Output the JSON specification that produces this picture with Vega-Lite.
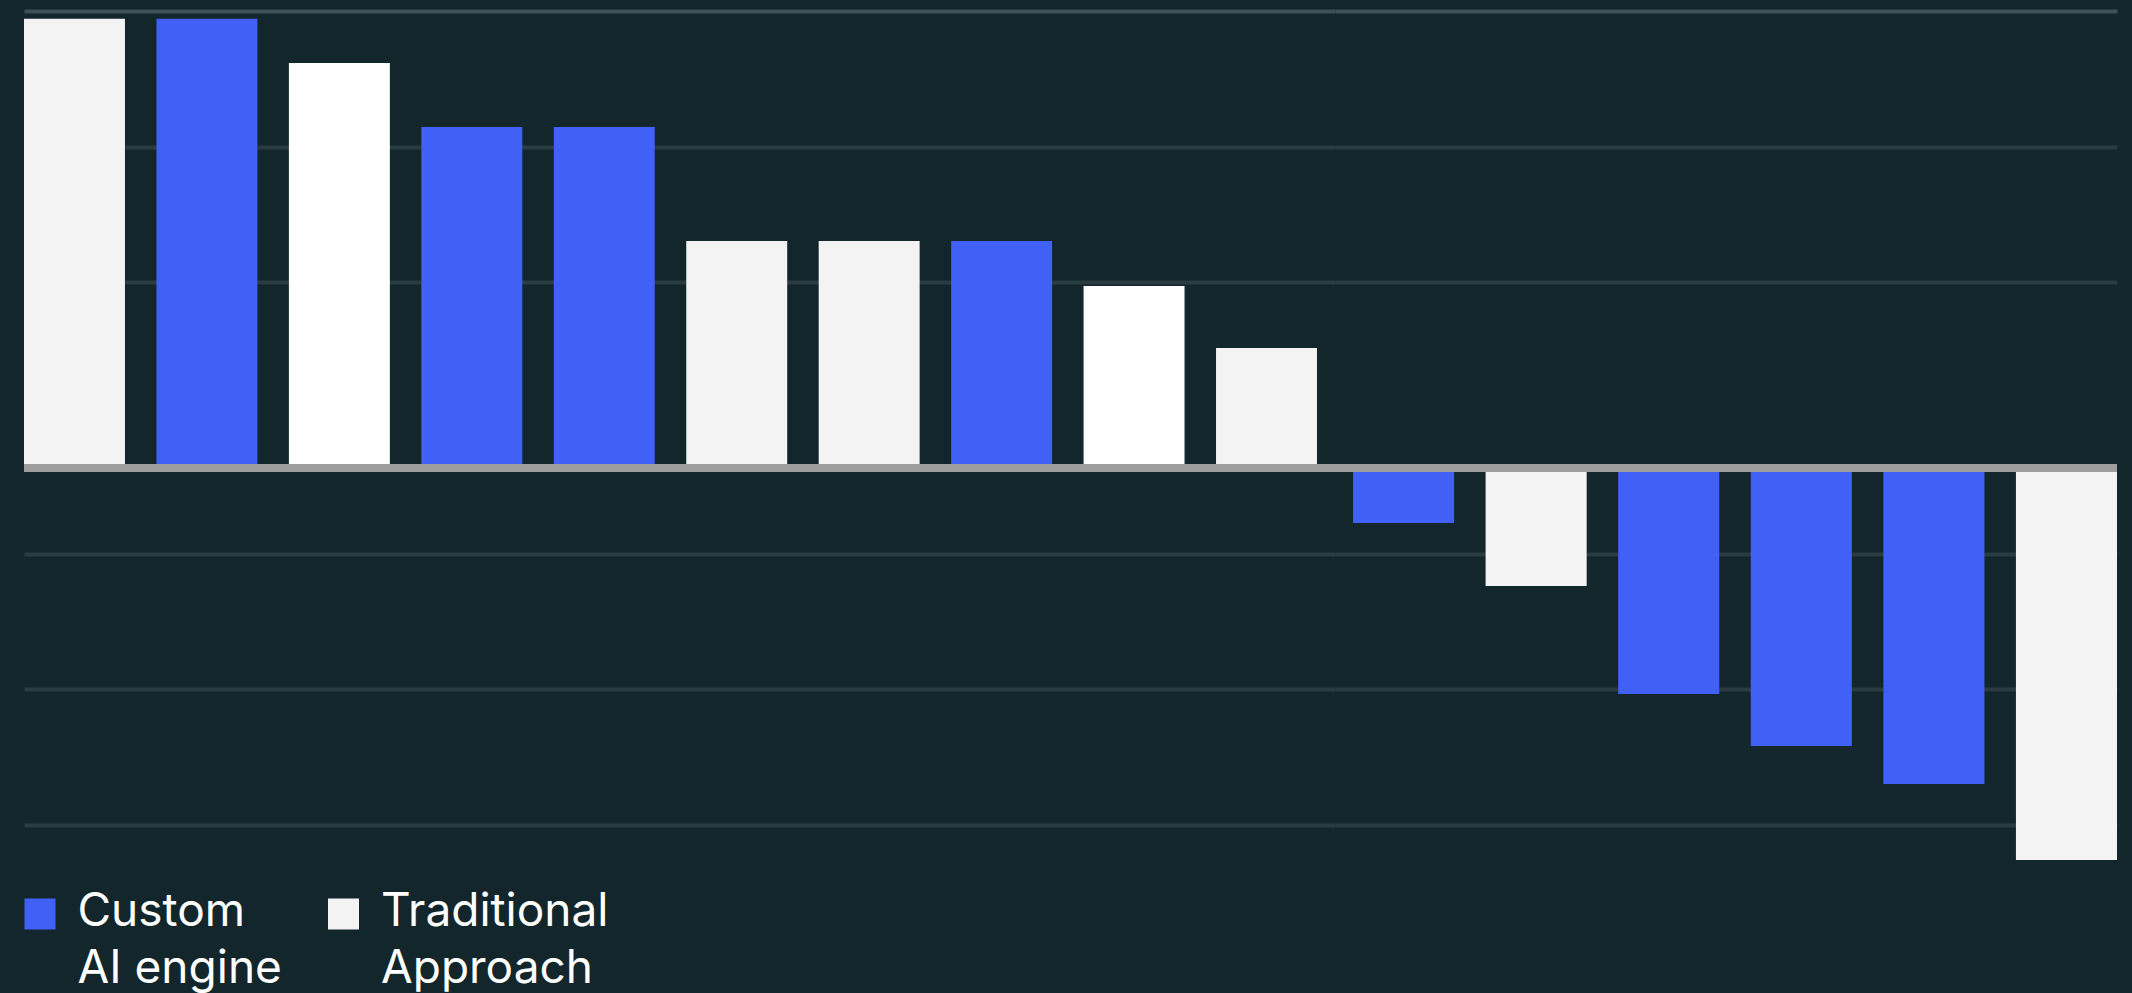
{
  "$schema": "https://vega.github.io/schema/vega-lite/v6.json",
  "padding": {"left": 17, "top": 11, "right": 11, "bottom": 20},
  "background": "#12262c",
  "spacing": 0,
  "bounds": "flush",
  "config": {
    "view": {"stroke": null},
    "font": "Inter",
    "concat": {"spacing": 0},
    "axis": {"minExtent": 0, "maxExtent": 0, "offset": 0, "labelPadding": 0, "tickSize": 0, "titlePadding": 0}
  },
  "data": {
    "values": [
      {"id": 1, "value": 33.1, "group": "Traditional Approach"},
      {"id": 2, "value": 33.1, "group": "Custom AI engine"},
      {"id": 3, "value": 29.85, "group": "Traditional Approach (bright)"},
      {"id": 4, "value": 25.13, "group": "Custom AI engine"},
      {"id": 5, "value": 25.13, "group": "Custom AI engine"},
      {"id": 6, "value": 16.73, "group": "Traditional Approach"},
      {"id": 7, "value": 16.73, "group": "Traditional Approach"},
      {"id": 8, "value": 16.73, "group": "Custom AI engine"},
      {"id": 9, "value": 13.42, "group": "Traditional Approach (bright)"},
      {"id": 10, "value": 8.85, "group": "Traditional Approach"},
      {"id": 11, "value": -4.05, "group": "Custom AI engine"},
      {"id": 12, "value": -8.7, "group": "Traditional Approach"},
      {"id": 13, "value": -16.66, "group": "Custom AI engine"},
      {"id": 14, "value": -20.49, "group": "Custom AI engine"},
      {"id": 15, "value": -23.29, "group": "Custom AI engine"},
      {"id": 16, "value": -28.89, "group": "Traditional Approach"}
    ]
  },
  "hconcat": [
    {
      "width": 1311,
      "height": 850,
      "layer": [
        {
          "transform": [{"filter": "datum.id <= 10"}],
          "mark": {"type": "bar"},
          "encoding": {
            "x": {
              "field": "id",
              "type": "ordinal",
              "sort": null,
              "axis": null,
              "scale": {"paddingInner": 0.2377, "paddingOuter": 0.068, "align": 0}
            },
            "y": {
              "field": "value",
              "type": "quantitative",
              "scale": {"domain": [-28.97, 33.68], "nice": false, "zero": false},
              "axis": {
                "values": [33.68, 23.68, 13.68, -6.32, -16.32, -26.32],
                "grid": true,
                "gridWidth": 4,
                "gridColor": {"condition": {"test": "datum.value > 30", "value": "#414f54"}, "value": "#2a3b41"},
                "domain": false,
                "ticks": false,
                "labels": false,
                "title": null
              }
            },
            "color": {
              "field": "group",
              "type": "nominal",
              "scale": {
                "domain": ["Custom AI engine", "Traditional Approach", "Traditional Approach (bright)"],
                "range": ["#4160f5", "#f3f3f3", "#ffffff"]
              },
              "legend": {
                "values": ["Custom AI engine", "Traditional Approach"],
                "orient": "none",
                "legendX": -7,
                "legendY": 880,
                "direction": "horizontal",
                "title": null,
                "padding": 0,
                "symbolType": "square",
                "symbolSize": 961,
                "symbolStrokeWidth": 0,
                "symbolOpacity": 1,
                "labelFont": "Inter",
                "labelFontSize": 46,
                "labelColor": "#ffffff",
                "labelLimit": 500,
                "labelOffset": 14.5,
                "labelBaseline": "alphabetic",
                "columnPadding": 38.5,
                "labelExpr": "datum.label == 'Custom AI engine' ? ['Custom', 'AI engine'] : ['Traditional', 'Approach']",
                "encode": {
                  "labels": {"update": {"lineHeight": {"value": 57}, "dy": {"value": 12}}},
                  "symbols": {"update": {"fillOpacity": {"value": 1}}}
                }
              }
            }
          }
        },
        {
          "data": {"values": [{"base": 0}]},
          "mark": {"type": "rule", "color": "#9e9e9e", "strokeWidth": 8},
          "encoding": {
            "y": {"field": "base", "type": "quantitative", "scale": {"domain": [-28.97, 33.68], "nice": false, "zero": false}}
          }
        }
      ]
    },
    {
      "width": 782,
      "height": 850,
      "layer": [
        {
          "transform": [{"filter": "datum.id > 10"}],
          "mark": {"type": "bar"},
          "encoding": {
            "x": {
              "field": "id",
              "type": "ordinal",
              "sort": null,
              "axis": null,
              "scale": {"paddingInner": 0.2377, "paddingOuter": 0.068, "align": 1}
            },
            "y": {
              "field": "value",
              "type": "quantitative",
              "scale": {"domain": [-28.97, 33.68], "nice": false, "zero": false},
              "axis": {
                "values": [33.68, 23.68, 13.68, -6.32, -16.32, -26.32],
                "grid": true,
                "gridWidth": 4,
                "gridColor": {"condition": {"test": "datum.value > 30", "value": "#414f54"}, "value": "#2a3b41"},
                "domain": false,
                "ticks": false,
                "labels": false,
                "title": null
              }
            },
            "color": {
              "field": "group",
              "type": "nominal",
              "scale": {
                "domain": ["Custom AI engine", "Traditional Approach", "Traditional Approach (bright)"],
                "range": ["#4160f5", "#f3f3f3", "#ffffff"]
              }
            }
          }
        },
        {
          "data": {"values": [{"base": 0}]},
          "mark": {"type": "rule", "color": "#9e9e9e", "strokeWidth": 8},
          "encoding": {
            "y": {"field": "base", "type": "quantitative", "scale": {"domain": [-28.97, 33.68], "nice": false, "zero": false}}
          }
        }
      ]
    }
  ],
  "resolve": {"scale": {"x": "independent", "y": "shared", "color": "shared"}, "axis": {"y": "independent"}}
}
